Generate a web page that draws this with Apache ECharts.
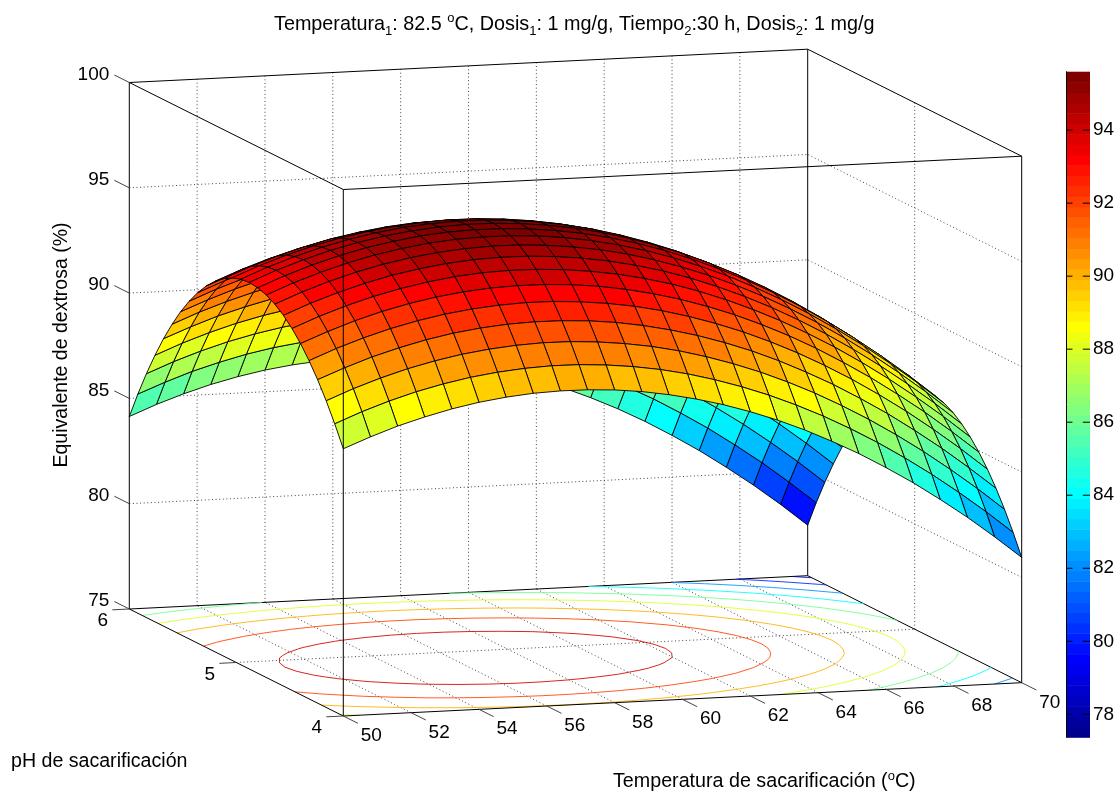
<!DOCTYPE html>
<html><head><meta charset="utf-8"><style>html,body{margin:0;padding:0;background:#fff}#c{width:1120px;height:794px}</style>
<script src="https://cdn.jsdelivr.net/npm/echarts@6/dist/echarts.min.js"></script></head><body><div id="c"></div>
<script>
const tempValues=[50,50.8,51.6,52.4,53.2,54,54.8,55.6,56.4,57.2,58,58.8,59.6,60.4,61.2,62,62.8,63.6,64.4,65.2,66,66.8,67.6,68.4,69.2,70];
const phValues=[4,4.08,4.16,4.24,4.32,4.4,4.48,4.56,4.64,4.72,4.8,4.88,4.96,5.04,5.12,5.2,5.28,5.36,5.44,5.52,5.6,5.68,5.76,5.84,5.92,6];
const zRows=[
[87.69,88.67,89.56,90.36,91.06,91.67,92.18,92.60,92.93,93.16,93.30,93.35,93.30,93.16,92.92,92.59,92.17,91.65,91.04,90.34,89.54,88.65,87.66,86.58,85.41,84.14],
[88.19,89.18,90.07,90.86,91.57,92.17,92.69,93.11,93.44,93.67,93.81,93.86,93.81,93.67,93.43,93.10,92.68,92.16,91.55,90.84,90.05,89.15,88.17,87.09,85.91,84.65],
[88.64,89.62,90.51,91.31,92.01,92.62,93.13,93.55,93.88,94.11,94.25,94.30,94.25,94.11,93.87,93.54,93.12,92.60,91.99,91.29,90.49,89.60,88.61,87.53,86.36,85.09],
[89.01,90.00,90.89,91.68,92.39,93.00,93.51,93.93,94.26,94.49,94.63,94.68,94.63,94.49,94.25,93.92,93.50,92.98,92.37,91.67,90.87,89.97,88.99,87.91,86.73,85.47],
[89.33,90.31,91.20,92.00,92.70,93.31,93.82,94.25,94.57,94.81,94.95,94.99,94.94,94.80,94.57,94.24,93.81,93.30,92.68,91.98,91.18,90.29,89.30,88.22,87.05,85.78],
[89.58,90.56,91.45,92.25,92.95,93.56,94.07,94.49,94.82,95.05,95.19,95.24,95.19,95.05,94.81,94.48,94.06,93.54,92.93,92.23,91.43,90.54,89.55,88.47,87.30,86.03],
[89.76,90.74,91.63,92.43,93.13,93.74,94.26,94.68,95.00,95.24,95.38,95.42,95.38,95.23,95.00,94.67,94.24,93.73,93.12,92.41,91.61,90.72,89.73,88.65,87.48,86.21],
[89.88,90.86,91.75,92.55,93.25,93.86,94.38,94.80,95.12,95.36,95.50,95.54,95.49,95.35,95.12,94.79,94.36,93.85,93.24,92.53,91.73,90.84,89.85,88.77,87.60,86.33],
[89.93,90.92,91.81,92.60,93.31,93.91,94.43,94.85,95.18,95.41,95.55,95.60,95.55,95.41,95.17,94.84,94.42,93.90,93.29,92.58,91.79,90.89,89.91,88.83,87.65,86.39],
[89.92,90.91,91.80,92.59,93.30,93.90,94.42,94.84,95.17,95.40,95.54,95.59,95.54,95.40,95.16,94.83,94.41,93.89,93.28,92.57,91.78,90.88,89.90,88.82,87.64,86.38],
[89.85,90.83,91.72,92.52,93.22,93.83,94.34,94.76,95.09,95.33,95.46,95.51,95.46,95.32,95.08,94.76,94.33,93.81,93.20,92.50,91.70,90.81,89.82,88.74,87.57,86.30],
[89.71,90.69,91.58,92.38,93.08,93.69,94.20,94.62,94.95,95.19,95.32,95.37,95.32,95.18,94.94,94.62,94.19,93.67,93.06,92.36,91.56,90.67,89.68,88.60,87.43,86.16],
[89.50,90.49,91.38,92.17,92.88,93.48,94.00,94.42,94.75,94.98,95.12,95.17,95.12,94.98,94.74,94.41,93.99,93.47,92.86,92.15,91.36,90.46,89.48,88.40,87.22,85.96],
[89.23,90.22,91.11,91.90,92.61,93.21,93.73,94.15,94.48,94.71,94.85,94.90,94.85,94.71,94.47,94.14,93.72,93.20,92.59,91.88,91.09,90.19,89.21,88.13,86.95,85.69],
[88.90,89.88,90.77,91.57,92.27,92.88,93.40,93.82,94.14,94.38,94.52,94.56,94.51,94.37,94.14,93.81,93.38,92.87,92.26,91.55,90.75,89.86,88.87,87.79,86.62,85.35],
[88.50,89.48,90.37,91.17,91.87,92.48,93.00,93.42,93.74,93.98,94.12,94.16,94.11,93.97,93.74,93.41,92.98,92.47,91.86,91.15,90.35,89.46,88.47,87.39,86.22,84.95],
[88.04,89.02,89.91,90.71,91.41,92.02,92.53,92.95,93.28,93.51,93.65,93.70,93.65,93.51,93.27,92.94,92.52,92.00,91.39,90.69,89.89,89.00,88.01,86.93,85.76,84.49],
[87.51,88.49,89.38,90.18,90.88,91.49,92.00,92.42,92.75,92.99,93.12,93.17,93.12,92.98,92.74,92.42,91.99,91.47,90.86,90.16,89.36,88.47,87.48,86.40,85.23,83.96],
[86.91,87.90,88.79,89.58,90.29,90.90,91.41,91.83,92.16,92.39,92.53,92.58,92.53,92.39,92.15,91.82,91.40,90.88,90.27,89.57,88.77,87.87,86.89,85.81,84.63,83.37],
[86.26,87.24,88.13,88.93,89.63,90.24,90.75,91.17,91.50,91.73,91.87,91.92,91.87,91.73,91.49,91.16,90.74,90.22,89.61,88.91,88.11,87.22,86.23,85.15,83.98,82.71],
[85.53,86.52,87.41,88.20,88.91,89.51,90.03,90.45,90.78,91.01,91.15,91.20,91.15,91.01,90.77,90.44,90.02,89.50,88.89,88.18,87.39,86.49,85.51,84.43,83.25,81.98],
[84.75,85.73,86.62,87.42,88.12,88.73,89.24,89.66,89.99,90.22,90.36,90.41,90.36,90.22,89.98,89.65,89.23,88.71,88.10,87.40,86.60,85.71,84.72,83.64,82.47,81.20],
[83.89,84.88,85.77,86.56,87.27,87.87,88.39,88.81,89.14,89.37,89.51,89.56,89.51,89.37,89.13,88.80,88.38,87.86,87.25,86.54,85.75,84.85,83.87,82.79,81.61,80.34],
[82.98,83.96,84.85,85.65,86.35,86.96,87.47,87.89,88.22,88.45,88.59,88.64,88.59,88.45,88.21,87.88,87.46,86.94,86.33,85.63,84.83,83.94,82.95,81.87,80.70,79.43],
[81.99,82.98,83.87,84.66,85.37,85.97,86.49,86.91,87.24,87.47,87.61,87.66,87.61,87.47,87.23,86.90,86.48,85.96,85.35,84.64,83.85,82.95,81.97,80.89,79.71,78.45],
[80.95,81.93,82.82,83.62,84.32,84.93,85.44,85.86,86.19,86.42,86.56,86.61,86.56,86.42,86.18,85.85,85.43,84.91,84.30,83.60,82.80,81.91,80.92,79.84,78.67,77.40]
];
const tempTicks=[50,52,54,56,58,60,62,64,66,68,70];
const phTicks=[4,5,6];
const zTicks=[75,80,85,90,95,100];
const contourLevels=[78,80,82,84,86,88,90,92,94];
const cbarTicks=[78,80,82,84,86,88,90,92,94];
const cMin=77.37,cMax=95.6;
const FONT='"Liberation Sans", Arial, sans-serif';

function P(T,p,z){return [343.3+(T-50)*33.92-(p-4)*107, 716-(T-50)*1.665-(p-4)*53.5-(z-75)*21.06];}
function hex(v){return Math.round(Math.max(0,Math.min(1,v))*255);}
function jetIdx(k){const t=(k+1)/64;return 'rgb('+hex(1.5-Math.abs(4*t-3))+','+hex(1.5-Math.abs(4*t-2))+','+hex(1.5-Math.abs(4*t-1))+')';}
function idxOf(z){return Math.max(0,Math.min(63,Math.floor((z-cMin)/(cMax-cMin)*64)));}
function line(api,a,b,style){const c=api.coord(a),d=api.coord(b);return {type:'line',shape:{x1:c[0],y1:c[1],x2:d[0],y2:d[1]},style:Object.assign({stroke:'#000',lineWidth:1,fill:null},style||{}),silent:true};}
const dotted={stroke:'#444',lineWidth:1,lineDash:[1,2.6]};
const Tmin=50,Tmax=70,pMin=4,pMax=6,zMin=75,zMax=100;

function backdrop(params,api){
  const ch=[];
  tempTicks.slice(1,-1).forEach(T=>{
    ch.push(line(api,P(T,pMax,zMin),P(T,pMax,zMax),dotted));
    ch.push(line(api,P(T,pMin,zMin),P(T,pMax,zMin),dotted));
  });
  phTicks.slice(1,-1).forEach(p=>{
    ch.push(line(api,P(Tmax,p,zMin),P(Tmax,p,zMax),dotted));
    ch.push(line(api,P(Tmin,p,zMin),P(Tmax,p,zMin),dotted));
  });
  zTicks.slice(1,-1).forEach(z=>{
    ch.push(line(api,P(Tmin,pMax,z),P(Tmax,pMax,z),dotted));
    ch.push(line(api,P(Tmax,pMin,z),P(Tmax,pMax,z),dotted));
  });
  ch.push(line(api,P(Tmax,pMax,zMin),P(Tmax,pMax,zMax)));
  ch.push(line(api,P(Tmin,pMax,zMax),P(Tmax,pMax,zMax)));
  ch.push(line(api,P(Tmax,pMin,zMax),P(Tmax,pMax,zMax)));
  ch.push(line(api,P(Tmin,pMax,zMin),P(Tmax,pMax,zMin)));
  ch.push(line(api,P(Tmax,pMin,zMin),P(Tmax,pMax,zMin)));
  return {type:'group',children:ch};
}
function contourSegs(level){
  const segs=[];
  for(let i=0;i<tempValues.length-1;i++)for(let j=0;j<phValues.length-1;j++){
    const c=[[i,j],[i+1,j],[i+1,j+1],[i,j+1]],pts=[];
    for(let k=0;k<4;k++){
      const a=c[k],b=c[(k+1)%4],za=zRows[a[0]][a[1]],zb=zRows[b[0]][b[1]];
      if((za<level)!==(zb<level)){
        const f=(level-za)/(zb-za);
        pts.push([tempValues[a[0]]+f*(tempValues[b[0]]-tempValues[a[0]]),phValues[a[1]]+f*(phValues[b[1]]-phValues[a[1]])]);
      }
    }
    if(pts.length>=2)segs.push([pts[0],pts[1]]);
  }
  return segs;
}
function contours(params,api){
  const ch=[];
  contourLevels.forEach(l=>{
    const col=jetIdx(idxOf(l));
    contourSegs(l).forEach(s=>ch.push(line(api,P(s[0][0],s[0][1],zMin),P(s[1][0],s[1][1],zMin),{stroke:col,lineWidth:1,opacity:.85})));
  });
  return {type:'group',children:ch};
}
const cells=[];
for(let i=tempValues.length-2;i>=0;i--)for(let j=phValues.length-2;j>=0;j--)cells.push([i,j]);
function surface(params,api){
  const i=api.value(0),j=api.value(1);
  const q=[[i,j],[i+1,j],[i+1,j+1],[i,j+1]].map(v=>api.coord(P(tempValues[v[0]],phValues[v[1]],zRows[v[0]][v[1]])));
  return {type:'polygon',shape:{points:q},style:{fill:jetIdx(idxOf(zRows[i][j])),stroke:'#000',lineWidth:.9},silent:true};
}
function txt(api,pos,text,o){const c=api.coord(pos);return {type:'text',x:c[0],y:c[1],rotation:(o&&o.rotation)||0,silent:true,
  style:{text:text,fill:'#000',font:((o&&o.size)||19)+'px '+FONT,align:(o&&o.align)||'center',verticalAlign:'middle',rich:o&&o.rich}};}
function front(params,api){
  const ch=[];
  ch.push(line(api,P(Tmin,pMin,zMin),P(Tmin,pMin,zMax)));
  ch.push(line(api,P(Tmin,pMax,zMin),P(Tmin,pMax,zMax)));
  ch.push(line(api,P(Tmax,pMin,zMin),P(Tmax,pMin,zMax)));
  ch.push(line(api,P(Tmin,pMin,zMax),P(Tmin,pMax,zMax)));
  ch.push(line(api,P(Tmin,pMin,zMax),P(Tmax,pMin,zMax)));
  ch.push(line(api,P(Tmin,pMin,zMin),P(Tmax,pMin,zMin)));
  ch.push(line(api,P(Tmin,pMin,zMin),P(Tmin,pMax,zMin)));
  const tick={stroke:'#444',lineWidth:1};
  tempTicks.forEach(T=>{
    ch.push(line(api,P(T,pMin,zMin),P(T,pMin-.137,zMin),tick));
    const b=P(T,pMin,zMin);ch.push(txt(api,[b[0]+28,b[1]+19.7],String(T)));
  });
  phTicks.forEach(p=>{
    ch.push(line(api,P(Tmin,p,zMin),P(Tmin-.5,p,zMin),tick));
    const b=P(Tmin,p,zMin);ch.push(txt(api,[b[0]-26.5,b[1]+12],String(p)));
  });
  zTicks.forEach(z=>{
    ch.push(line(api,P(Tmin,pMax,z),P(Tmin,pMax+.14,z),tick));
    const b=P(Tmin,pMax,z);ch.push(txt(api,[b[0]-20,b[1]-8],String(z),{align:'right'}));
  });
  ch.push(txt(api,[61.5,345],'Equivalente de dextrosa (%)',{size:19.5,rotation:Math.PI/2}));
  ch.push(txt(api,[11,761.5],'pH de sacarificación',{size:19.6,align:'left'}));
  ch.push(txt(api,[613,782],'Temperatura de sacarificación ({sup|o}C)',{size:19.7,align:'left',rich:{sup:{font:'13px '+FONT,padding:[0,0,12,0]}}}));
  return {type:'group',children:ch};
}
const cbarLevels=[];for(let k=0;k<64;k++)cbarLevels.push(k);
function cbar(params,api){
  const k=api.value(0),s=(cMax-cMin)/64,a=api.coord([0,cMin+k*s]),b=api.coord([1,cMin+(k+1)*s]);
  return {type:'rect',shape:{x:a[0],y:b[1],width:b[0]-a[0],height:a[1]-b[1]+.5},style:{fill:jetIdx(k)},silent:true};
}
function cbarTickMarks(params,api){
  const v=api.value(0);
  return {type:'group',children:[line(api,[0,v],[.27,v]),line(api,[.7,v],[1,v])]};
}
const base={type:'custom',silent:true,animation:false,clip:false,xAxisIndex:0,yAxisIndex:0,coordinateSystem:'cartesian2d'};
const opt={
 animation:false,backgroundColor:'#fff',
 title:{text:'Temperatura{sub|1}: 82.5 {sup|o}C, Dosis{sub|1}: 1 mg/g, Tiempo{sub|2}:30 h, Dosis{sub|2}: 1 mg/g',left:269,top:6,
  textStyle:{fontFamily:FONT,fontSize:19.8,fontWeight:'normal',color:'#000',rich:{sub:{fontSize:13,fontFamily:FONT,padding:[14,0,0,0]},sup:{fontSize:13,fontFamily:FONT,padding:[0,0,13,0]}}}},
 grid:[{left:0,top:0,width:1120,height:794},{left:1066,top:71.7,width:24,height:665.6}],
 xAxis:[{type:'value',min:0,max:1120,show:false,gridIndex:0},{type:'value',min:0,max:1,show:false,gridIndex:1}],
 yAxis:[{type:'value',min:0,max:794,inverse:true,show:false,gridIndex:0},
  {type:'value',gridIndex:1,position:'right',z:10,min:cMin,max:cMax,splitLine:{show:false},
   axisLine:{show:true,lineStyle:{color:'#bbb',width:1}},
   axisTick:{show:false},
   axisLabel:{show:true,customValues:cbarTicks,margin:3,color:'#000',fontFamily:FONT,fontSize:19}},
  {type:'value',gridIndex:1,position:'left',z:10,min:cMin,max:cMax,splitLine:{show:false},
   axisLine:{show:true,lineStyle:{color:'#000',width:1}},
   axisTick:{show:false},
   axisLabel:{show:false}}],
 series:[
  Object.assign({},base,{name:'backdrop',data:[[0]],renderItem:backdrop,z:1}),
  Object.assign({},base,{name:'contours',data:[[0]],renderItem:contours,z:2}),
  Object.assign({},base,{name:'surface',data:cells,encode:{x:0,y:1},renderItem:surface,z:3}),
  Object.assign({},base,{name:'front',data:[[0]],renderItem:front,z:4}),
  Object.assign({},base,{name:'colorbar',xAxisIndex:1,yAxisIndex:1,data:cbarLevels.map(k=>[k]),renderItem:cbar,z:0}),
  Object.assign({},base,{name:'colorbarTicks',xAxisIndex:1,yAxisIndex:1,data:cbarTicks.map(v=>[v]),encode:{y:0},renderItem:cbarTickMarks,z:5})
 ]
};
const chart=echarts.init(document.getElementById('c'),null,{renderer:'canvas',width:1120,height:794});
chart.setOption(opt);
</script></body></html>
